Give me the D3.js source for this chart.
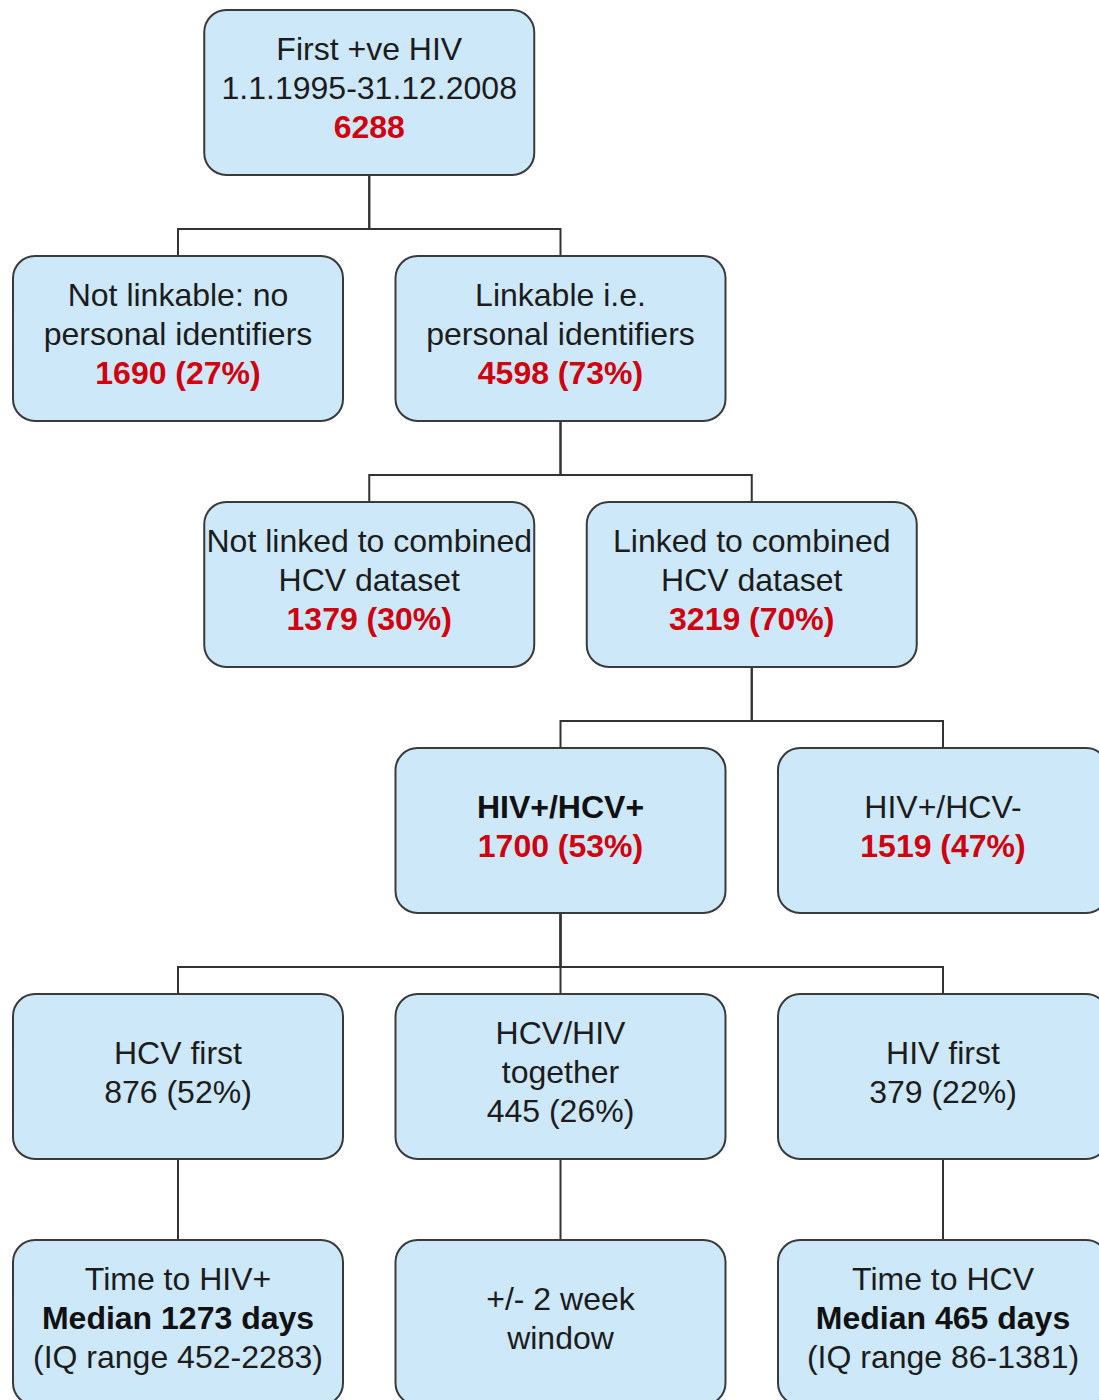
<!DOCTYPE html>
<html>
<head>
<meta charset="utf-8">
<script src="https://cdn.jsdelivr.net/npm/d3@7"></script>
<style>
  body { margin: 0; background: #fff; }
  .box { fill: #cde8f9; stroke: #3a3a3a; stroke-width: 2; }
  .link { fill: none; stroke: #333; stroke-width: 2; }
  text { font-family: "Liberation Sans", Arial, sans-serif; font-size: 32px; }
  .plain { fill: #1c1c1c; }
  .red { fill: #d0000e; font-weight: bold; }
  .bold { fill: #111; font-weight: bold; }
</style>
</head>
<body>
<div id="chart"></div>
<script>
// flow chart of HIV / HCV record linkage

const FRAME_WIDTH = 1099;
const FRAME_HEIGHT = 1400;
const BOX_W = 330;
const BOX_H = 165;
const LINE_H = 39;

// nodes
const nodeIds = ["all", "notLinkable", "linkable", "notLinked", "linked",
                 "hivHcv", "hivOnly", "hcvFirst", "together", "hivFirst",
                 "timeHiv", "window", "timeHcv"];
const nodeCols = [1, 0, 2, 1, 3, 2, 4, 0, 2, 4, 0, 2, 4];
const nodeRows = [0, 1, 1, 2, 2, 3, 3, 4, 4, 4, 5, 5, 5];
const nodeLines = [
    [["First +ve HIV", "plain"], ["1.1.1995-31.12.2008", "plain"], ["6288", "red"]],
    [["Not linkable: no", "plain"], ["personal identifiers", "plain"], ["1690 (27%)", "red"]],
    [["Linkable i.e.", "plain"], ["personal identifiers", "plain"], ["4598 (73%)", "red"]],
    [["Not linked to combined", "plain"], ["HCV dataset", "plain"], ["1379 (30%)", "red"]],
    [["Linked to combined", "plain"], ["HCV dataset", "plain"], ["3219 (70%)", "red"]],
    [["HIV+/HCV+", "bold"], ["1700 (53%)", "red"]],
    [["HIV+/HCV-", "plain"], ["1519 (47%)", "red"]],
    [["HCV first", "plain"], ["876 (52%)", "plain"]],
    [["HCV/HIV", "plain"], ["together", "plain"], ["445 (26%)", "plain"]],
    [["HIV first", "plain"], ["379 (22%)", "plain"]],
    [["Time to HIV+", "plain"], ["Median 1273 days", "bold"], ["(IQ range 452-2283)", "plain"]],
    [["+/- 2 week", "plain"], ["window", "plain"]],
    [["Time to HCV", "plain"], ["Median 465 days", "bold"], ["(IQ range 86-1381)", "plain"]]
];

// parent -> child
const links = [
    ["all", "notLinkable"], ["all", "linkable"],
    ["linkable", "notLinked"], ["linkable", "linked"],
    ["linked", "hivHcv"], ["linked", "hivOnly"],
    ["hivHcv", "hcvFirst"], ["hivHcv", "together"], ["hivHcv", "hivFirst"],
    ["hcvFirst", "timeHiv"], ["together", "window"], ["hivFirst", "timeHcv"]
];

// column centres and row tops
const X_SCALE = d3.scaleLinear().domain([0, 4]).range([178, 943]);
const Y_SCALE = d3.scaleLinear().domain([0, 5]).range([10, 1240]);

const nodes = nodeIds.map((id, i) => ({
    id: id,
    cx: X_SCALE(nodeCols[i]),
    top: Y_SCALE(nodeRows[i]),
    lines: nodeLines[i]
}));
const byId = {};
nodes.forEach((n) => { byId[n.id] = n; });

const svg = d3.select("#chart")
    .append("svg")
    .attr("width", FRAME_WIDTH)
    .attr("height", FRAME_HEIGHT);

// elbow connectors
svg.selectAll(".link")
    .data(links)
    .enter()
    .append("path")
    .attr("class", "link")
    .attr("d", (d) => {
        const p = byId[d[0]], c = byId[d[1]];
        const y0 = p.top + BOX_H;
        const y1 = c.top;
        const ym = y1 - 27;
        return "M" + p.cx + "," + y0 + "V" + ym + "H" + c.cx + "V" + y1;
    });

const g = svg.selectAll(".node")
    .data(nodes)
    .enter()
    .append("g")
    .attr("class", "node");

g.append("rect")
    .attr("class", "box")
    .attr("x", (d) => d.cx - BOX_W / 2)
    .attr("y", (d) => d.top)
    .attr("width", BOX_W)
    .attr("height", BOX_H)
    .attr("rx", 22)
    .attr("ry", 22);

g.each(function(d) {
    const n = d.lines.length;
    const mid = d.top + BOX_H / 2 - 5;
    d3.select(this).selectAll("text")
        .data(d.lines)
        .enter()
        .append("text")
        .attr("class", (l) => l[1])
        .attr("x", d.cx)
        .attr("y", (l, i) => mid + (i - (n - 1) / 2) * LINE_H)
        .attr("dy", "0.36em")
        .attr("text-anchor", "middle")
        .text((l) => l[0]);
});
</script>
</body>
</html>
